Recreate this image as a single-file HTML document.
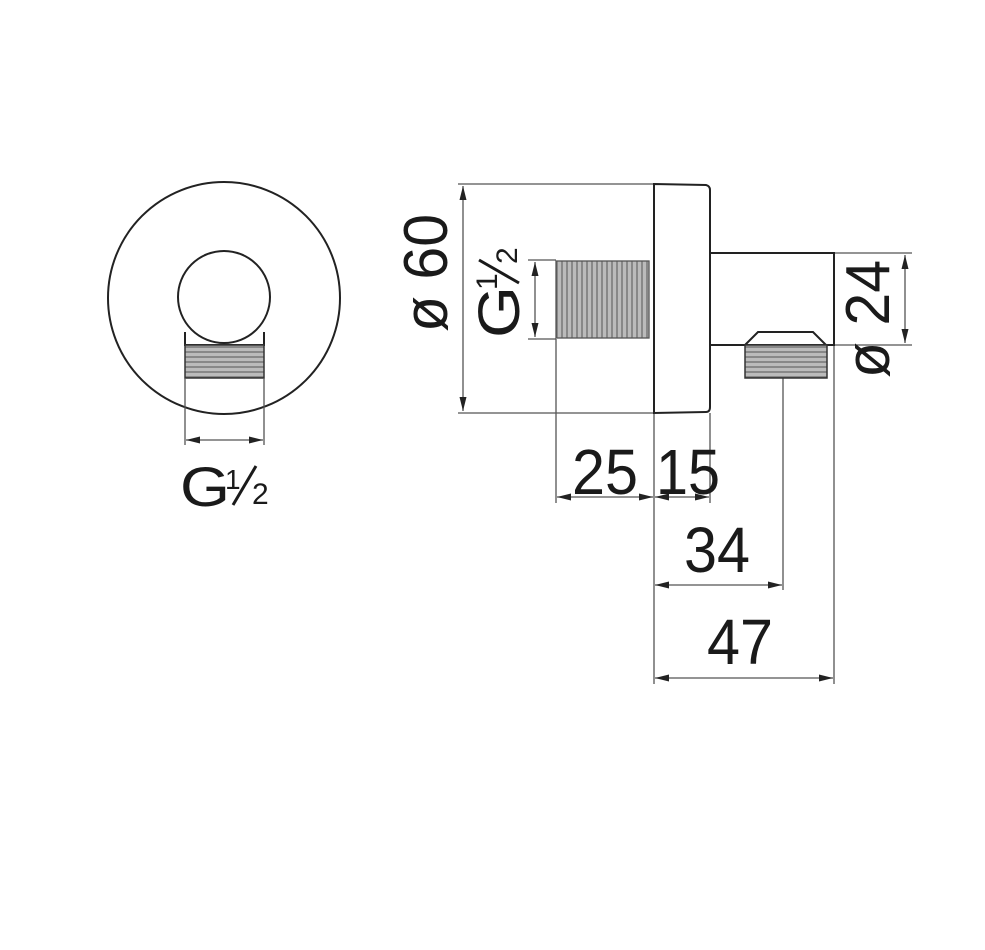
<!DOCTYPE html>
<html><head><meta charset="utf-8"><style>
html,body{margin:0;padding:0;background:#fff}
svg{display:block}
text{font-family:"Liberation Sans",sans-serif;fill:#1a1a1a}
</style></head><body>
<svg width="985" height="950" viewBox="0 0 985 950" xmlns="http://www.w3.org/2000/svg">
<defs>
<marker id="a" viewBox="0 0 14 7" refX="14" refY="3.5" markerWidth="14" markerHeight="7" orient="auto-start-reverse" markerUnits="userSpaceOnUse"><path d="M0,0 L14,3.5 L0,7 z" fill="#222"/></marker>
<pattern id="thv" width="5" height="10" patternUnits="userSpaceOnUse"><rect width="5" height="10" fill="#bbb"/><line x1="2" y1="0" x2="2" y2="10" stroke="#666" stroke-width="1.2"/></pattern>
<pattern id="thh" width="10" height="5" patternUnits="userSpaceOnUse"><rect width="10" height="5" fill="#bbb"/><line x1="0" y1="2" x2="10" y2="2" stroke="#666" stroke-width="1.2"/></pattern>
</defs>
<g fill="none" stroke="#222" stroke-width="2">
<circle cx="224" cy="298" r="116"/>
<path d="M185,332 L185,345 L264,345 L264,332"/>
<rect x="185" y="345" width="79" height="33" fill="url(#thh)" stroke="#333" stroke-width="1.5"/>
<circle cx="224" cy="297" r="46" fill="#fff"/>
</g>
<g stroke="#555" stroke-width="1.3" fill="none">
<line x1="185" y1="378" x2="185" y2="445"/>
<line x1="264" y1="378" x2="264" y2="445"/>
<line x1="186" y1="440" x2="263" y2="440" marker-start="url(#a)" marker-end="url(#a)"/>
</g>
<text x="180" y="506" font-size="56" textLength="50" lengthAdjust="spacingAndGlyphs">G</text>
<text x="225" y="489" font-size="28">1</text>
<line x1="233" y1="505" x2="256" y2="466" stroke="#1a1a1a" stroke-width="3"/>
<text x="252" y="504" font-size="30">2</text>

<g stroke="#555" stroke-width="1.3" fill="none">
<line x1="458" y1="184" x2="654" y2="184"/>
<line x1="458" y1="413" x2="654" y2="413"/>
<line x1="463" y1="186" x2="463" y2="411" marker-start="url(#a)" marker-end="url(#a)"/>
<line x1="528" y1="260" x2="556" y2="260"/>
<line x1="528" y1="339" x2="556" y2="339"/>
<line x1="535" y1="262" x2="535" y2="337" marker-start="url(#a)" marker-end="url(#a)"/>
<line x1="834" y1="253" x2="912" y2="253"/>
<line x1="834" y1="345" x2="912" y2="345"/>
<line x1="905" y1="255" x2="905" y2="343" marker-start="url(#a)" marker-end="url(#a)"/>
<line x1="556" y1="339" x2="556" y2="503"/>
<line x1="654" y1="413" x2="654" y2="684"/>
<line x1="710" y1="413" x2="710" y2="503"/>
<line x1="783" y1="378" x2="783" y2="590"/>
<line x1="834" y1="345" x2="834" y2="684"/>
<line x1="557" y1="497" x2="653" y2="497" marker-start="url(#a)" marker-end="url(#a)"/>
<line x1="655" y1="497" x2="709" y2="497" marker-start="url(#a)" marker-end="url(#a)"/>
<line x1="655" y1="585" x2="782" y2="585" marker-start="url(#a)" marker-end="url(#a)"/>
<line x1="655" y1="678" x2="833" y2="678" marker-start="url(#a)" marker-end="url(#a)"/>
</g>
<g fill="none" stroke="#222" stroke-width="2">
<rect x="556" y="261" width="93" height="77" fill="url(#thv)" stroke="#555" stroke-width="1.3"/>
<path d="M654,184 L706,185 Q710,186 710,190 L710,407 Q710,412 706,412 L654,413 Z"/>
<path d="M710,253 L834,253 L834,345 L710,345"/>
<path d="M745,345 L758,332 L813,332 L826,345"/>
<rect x="745" y="345" width="82" height="33" fill="url(#thh)" stroke="#333" stroke-width="1.5"/>
</g>
<text font-size="62" transform="translate(447,332) rotate(-90)" textLength="118" lengthAdjust="spacingAndGlyphs">ø 60</text>
<g transform="translate(519,338) rotate(-90)">
<text x="0" y="0" font-size="58" textLength="52" lengthAdjust="spacingAndGlyphs">G</text>
<text x="48" y="-22" font-size="30">1</text>
<line x1="55" y1="0" x2="78" y2="-40" stroke="#1a1a1a" stroke-width="3"/>
<text x="74" y="-2" font-size="30">2</text>
</g>
<text font-size="62" transform="translate(889,378) rotate(-90)" textLength="118" lengthAdjust="spacingAndGlyphs">ø 24</text>
<text x="572" y="494" font-size="64" textLength="66" lengthAdjust="spacingAndGlyphs">25</text>
<text x="656" y="494" font-size="64" textLength="64" lengthAdjust="spacingAndGlyphs">15</text>
<text x="684" y="572" font-size="64" textLength="66" lengthAdjust="spacingAndGlyphs">34</text>
<text x="707" y="664" font-size="64" textLength="66" lengthAdjust="spacingAndGlyphs">47</text>
</svg>
</body></html>
